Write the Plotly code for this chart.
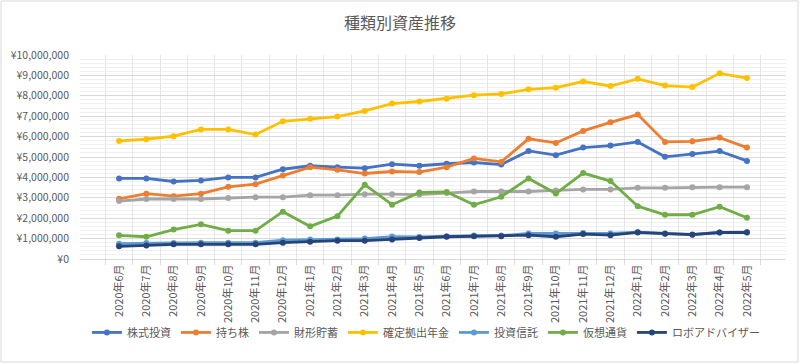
import plotly.graph_objects as go

months = ["2020年6月", "2020年7月", "2020年8月", "2020年9月", "2020年10月", "2020年11月",
          "2020年12月", "2021年1月", "2021年2月", "2021年3月", "2021年4月", "2021年5月",
          "2021年6月", "2021年7月", "2021年8月", "2021年9月", "2021年10月", "2021年11月",
          "2021年12月", "2022年1月", "2022年2月", "2022年3月", "2022年4月", "2022年5月"]

kabushiki = [3950000, 3950000, 3800000, 3850000, 4000000, 4000000, 4400000, 4570000, 4500000, 4450000, 4650000, 4570000,
             4670000, 4730000, 4630000, 5300000, 5090000, 5460000, 5560000, 5740000, 5010000, 5150000, 5290000, 4810000]
mochikabu = [2950000, 3200000, 3080000, 3200000, 3540000, 3670000, 4090000, 4500000, 4370000, 4190000, 4290000, 4260000,
             4500000, 4930000, 4760000, 5890000, 5690000, 6280000, 6700000, 7080000, 5740000, 5770000, 5950000, 5460000]
zaikei = [2840000, 2940000, 2940000, 2940000, 2990000, 3030000, 3030000, 3130000, 3130000, 3180000, 3180000, 3160000,
          3230000, 3310000, 3310000, 3310000, 3360000, 3410000, 3410000, 3490000, 3490000, 3520000, 3520000, 3520000]
kakutei = [5790000, 5870000, 6020000, 6350000, 6350000, 6100000, 6750000, 6880000, 6980000, 7260000, 7620000, 7720000,
           7860000, 8030000, 8090000, 8320000, 8400000, 8700000, 8480000, 8830000, 8500000, 8430000, 9100000, 8870000]
toushin = [750000, 780000, 790000, 800000, 800000, 800000, 920000, 950000, 950000, 1000000, 1100000, 1080000,
           1120000, 1150000, 1150000, 1250000, 1250000, 1280000, 1250000, 1320000, 1250000, 1200000, 1300000, 1320000]
kasou = [1160000, 1090000, 1440000, 1700000, 1390000, 1390000, 2320000, 1600000, 2100000, 3640000, 2660000, 3260000,
         3290000, 2660000, 3050000, 3950000, 3210000, 4210000, 3820000, 2590000, 2170000, 2170000, 2560000, 2020000]
roboad = [620000, 660000, 720000, 720000, 720000, 720000, 800000, 850000, 900000, 900000, 950000, 1030000,
          1090000, 1120000, 1120000, 1170000, 1090000, 1220000, 1170000, 1300000, 1240000, 1190000, 1300000, 1300000]

series = [
    ("株式投資", kabushiki, "#4472C4"),
    ("持ち株", mochikabu, "#ED7D31"),
    ("財形貯蓄", zaikei, "#A5A5A5"),
    ("確定拠出年金", kakutei, "#FFC000"),
    ("投資信託", toushin, "#5B9BD5"),
    ("仮想通貨", kasou, "#70AD47"),
    ("ロボアドバイザー", roboad, "#264478"),
]

FONT = "Noto Sans CJK JP"
fig = go.Figure()
for name, vals, col in series:
    fig.add_trace(go.Scatter(
        x=months, y=vals, name=name, mode="lines+markers",
        line=dict(color=col, width=2.8),
        marker=dict(color=col, size=6, symbol="circle"),
    ))

fig.update_layout(
    width=800, height=364,
    margin=dict(l=80, r=14, t=55, b=105),
    paper_bgcolor="white", plot_bgcolor="white",
    font=dict(family=FONT, color="#595959", size=11),
    title=dict(text="種類別資産推移", x=0.5, xanchor="center", y=0.935, yanchor="middle",
               font=dict(size=16, color="#595959", family=FONT)),
    showlegend=True,
    legend=dict(orientation="h", x=0.49, xanchor="center", y=-0.36, yanchor="middle",
                font=dict(size=11, color="#595959", family=FONT), itemwidth=30,
                bgcolor="rgba(0,0,0,0)"),
    xaxis=dict(type="category", tickson="boundaries", showgrid=True, gridcolor="#E6E6E6",
               tickangle=-90, ticks="outside", ticklen=5, tickcolor="#D9D9D9",
               showline=True, linecolor="#D9D9D9", linewidth=1, automargin=False,
               tickfont=dict(size=11, color="#595959", family=FONT), zeroline=False),
    yaxis=dict(range=[0, 10000000], dtick=1000000, tickprefix="¥", tickformat=",d",
               showgrid=True, gridcolor="#D9D9D9", zeroline=False, showline=False,
               automargin=False, ticklabelstandoff=10,
               tickfont=dict(size=10.5, color="#595959", family=FONT),
               minor=dict(dtick=200000, showgrid=True, gridcolor="#F0F0F0", ticks="")),
    shapes=[dict(type="rect", xref="paper", yref="paper",
                 x0=-0.1119, x1=1.0170, y0=-0.505, y1=1.265,
                 line=dict(color="#D9D9D9", width=1), fillcolor="rgba(0,0,0,0)", layer="below")],
)

fig.write_html("out.html", config={"displayModeBar": False},
               post_script="document.body.style.margin='0px';")
